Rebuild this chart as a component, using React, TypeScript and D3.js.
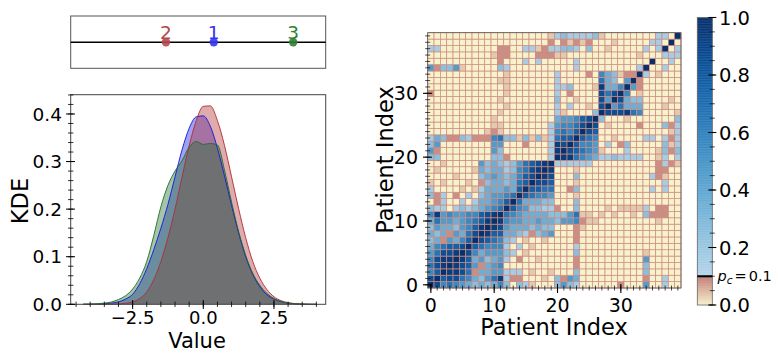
import React, { useEffect, useRef } from 'react';
import * as d3 from 'd3';

// top strip: one marker per group
const markerLabels = ['1', '2', '3'];
const markerValues = [0.37, -1.32, 3.18];
const markerColors = ['#3434ee', '#b8474b', '#2f7f33'];

// KDE curves
const kdeX = [-4.25, -4, -3.75, -3.5, -3.25, -3, -2.75, -2.5, -2.25, -2, -1.75, -1.5, -1.25, -1, -0.75, -0.5, -0.25,
  0, 0.25, 0.5, 0.75, 1, 1.25, 1.5, 1.75, 2, 2.25, 2.5, 2.75, 3, 3.25, 3.5, 3.75, 4];
const kdeBlue = [0, 0.0002, 0.0005, 0.001, 0.0025, 0.005, 0.011, 0.021, 0.043, 0.075, 0.115, 0.16, 0.21, 0.268, 0.325, 0.37, 0.394,
  0.396, 0.374, 0.328, 0.27, 0.208, 0.15, 0.1, 0.063, 0.037, 0.02, 0.011, 0.0055, 0.0025, 0.001, 0.0004, 0.0001, 0];
const kdeRed = [0, 0, 0, 0.0001, 0.0003, 0.0008, 0.002, 0.005, 0.012, 0.026, 0.052, 0.09, 0.14, 0.2, 0.268, 0.333, 0.386,
  0.416, 0.417, 0.386, 0.334, 0.268, 0.201, 0.14, 0.09, 0.055, 0.031, 0.016, 0.0077, 0.0035, 0.0015, 0.0005, 0.0001, 0];
const kdeGreen = [0.0003, 0.0006, 0.0012, 0.0025, 0.005, 0.01, 0.018, 0.032, 0.055, 0.09, 0.145, 0.205, 0.25, 0.28, 0.302, 0.33, 0.342,
  0.336, 0.338, 0.335, 0.282, 0.215, 0.153, 0.103, 0.065, 0.04, 0.023, 0.012, 0.006, 0.0025, 0.001, 0.0004, 0.0001, 0];

const kdeXTicks = [-2.5, 0, 2.5];
const kdeYTicks = [0, 0.1, 0.2, 0.3, 0.4];

// co-clustering matrix, symmetric: lower triangle, one string per patient
const levelKeys = ['.', ':', 'r', 'a', 'b', 'c', 'd', 'e', 'f', 'g', 'h', 'i', 'X'];
const levelValues = [0.0, 0.035, 0.085, 0.16, 0.26, 0.36, 0.46, 0.56, 0.66, 0.76, 0.85, 0.93, 1.0];
const lowerRows = [
  'X',
  'hX',
  'egX',
  'fhiX',
  'ehiiX',
  'dfhhiX',
  'cefgghX',
  'bcrdcegX',
  'cbcrdcfhX',
  'bdccbdegiX',
  'cfddcdefgiX',
  'eideddeeghiX',
  'baa.ababcdefX',
  '.ra..a.accdegX',
  'bra.r.a.bcddefX',
  'a....:.:acccdcgX',
  ':.:...:.rbccbcfgX',
  '....:...bcdcbceghX',
  '.:.....:cbccabefhiX',
  '..:.....dbcbabdfghiX',
  'bb........bbr......aX',
  'dr........db.......aiX',
  'bd........dd...r...aihX',
  'acbrrbarrrefbb:b:b:afggX',
  '.........:r:.......aefegX',
  '..........::.......adeefhX',
  '..........:.........cddeghX',
  '...........:........a:....bX',
  '............:.......a.a..:.hX',
  '...........:........b..:...hdX',
  'r...........:.......a.r....hfhX',
  '............:.......aab...:icceX',
  '...........::.......a......fcb.dX',
  '............:.......a....r.ecb:rrX',
  'drbbd:.....ba..........a.........aX',
  '...........r...a.a.....a...........X',
  '..........:rr....rrr::...........:...X',
  'aa.........rr..aa:raabba.b..:.....a.aX',
  '...................r.r:r:r...:.....aa.X',
  '...................:abaaaab:........aa.X',
];

const patientTicks = [0, 10, 20, 30];
const cbarTicks = [0, 0.2, 0.4, 0.6, 0.8, 1.0];
const pc = 0.1;

const App = () => {
  const ref = useRef<SVGSVGElement>(null);

  useEffect(() => {
    document.body.style.margin = '0';
    const svg = d3.select(ref.current);
    svg.selectAll('*').remove();
    const font = 'DejaVu Sans';

    // ---------- KDE panel ----------
    const x = d3.scaleLinear().domain([-4.69, 4.33]).range([70.7, 325.7]);
    const y = d3.scaleLinear().domain([0, 0.4405]).range([304.3, 94.7]);

    const series = [
      { vals: kdeBlue, color: 'rgb(20,20,220)' },
      { vals: kdeRed, color: 'rgb(175,45,50)' },
      { vals: kdeGreen, color: 'rgb(30,110,40)' },
    ];
    const area = d3.area<[number, number]>()
      .x(d => x(d[0])).y0(y(0)).y1(d => y(d[1]))
      .curve(d3.curveMonotoneX);
    const line = d3.line<[number, number]>()
      .x(d => x(d[0])).y(d => y(d[1]))
      .curve(d3.curveMonotoneX);

    series.forEach(s => {
      const pts = kdeX.map((v, i) => [v, s.vals[i]] as [number, number]);
      svg.append('path').attr('d', area(pts)).attr('fill', s.color).attr('fill-opacity', 0.4);
    });
    series.forEach(s => {
      const pts = kdeX.map((v, i) => [v, s.vals[i]] as [number, number]);
      svg.append('path').attr('d', line(pts)).attr('fill', 'none')
        .attr('stroke', s.color).attr('stroke-width', 0.9);
    });

    svg.append('rect').attr('x', 70.7).attr('y', 94.7).attr('width', 255).attr('height', 209.6)
      .attr('fill', 'none').attr('stroke', '#444').attr('stroke-width', 1);

    // y ticks
    d3.range(0, 0.441, 0.02).forEach(v => {
      svg.append('line').attr('x1', 68).attr('x2', 73.4).attr('y1', y(v)).attr('y2', y(v))
        .attr('stroke', '#000').attr('stroke-width', 0.8);
    });
    kdeYTicks.forEach(v => {
      svg.append('line').attr('x1', 66).attr('x2', 75).attr('y1', y(v)).attr('y2', y(v))
        .attr('stroke', '#000').attr('stroke-width', 1);
      svg.append('text').attr('x', 62).attr('y', y(v)).attr('dy', '0.36em')
        .attr('text-anchor', 'end').attr('font-family', font).attr('font-size', 18.5)
        .text(d3.format('.1f')(v));
    });
    // x ticks
    d3.range(-4.5, 4.01, 0.5).forEach(v => {
      svg.append('line').attr('x1', x(v)).attr('x2', x(v)).attr('y1', 301.6).attr('y2', 307)
        .attr('stroke', '#000').attr('stroke-width', 0.8);
    });
    kdeXTicks.forEach(v => {
      svg.append('line').attr('x1', x(v)).attr('x2', x(v)).attr('y1', 300).attr('y2', 309)
        .attr('stroke', '#000').attr('stroke-width', 1);
      svg.append('text').attr('x', x(v)).attr('y', 323.5).attr('text-anchor', 'middle')
        .attr('font-family', font).attr('font-size', 18)
        .text(d3.format('.1f')(v).replace('-', '\u2212'));
    });
    svg.append('text').attr('x', 197).attr('y', 347.5).attr('text-anchor', 'middle')
      .attr('font-family', font).attr('font-size', 21).text('Value');
    svg.append('text').attr('transform', 'translate(28,201) rotate(-90)').attr('text-anchor', 'middle')
      .attr('font-family', font).attr('font-size', 22.5).text('KDE');

    // ---------- top strip ----------
    svg.append('rect').attr('x', 70.7).attr('y', 16).attr('width', 255).attr('height', 52.3)
      .attr('fill', 'none').attr('stroke', '#555').attr('stroke-width', 1);
    svg.append('line').attr('x1', 70.7).attr('x2', 325.7).attr('y1', 42.3).attr('y2', 42.3)
      .attr('stroke', '#000').attr('stroke-width', 1.6);
    markerValues.forEach((v, i) => {
      svg.append('circle').attr('cx', x(v)).attr('cy', 42.3).attr('r', 4.2)
        .attr('fill', markerColors[i]).attr('fill-opacity', 0.9);
      svg.append('text').attr('x', x(v)).attr('y', 38.5).attr('text-anchor', 'middle')
        .attr('font-family', font).attr('font-size', 18.5).attr('fill', markerColors[i])
        .text(markerLabels[i]);
    });

    // ---------- heatmap ----------
    const n = lowerRows.length;
    const hx = d3.scaleLinear().domain([-0.5, n - 0.5]).range([427.7, 681]);
    const hy = d3.scaleLinear().domain([-0.5, n - 0.5]).range([288, 32.7]);
    const level = (ch: string) => levelValues[levelKeys.indexOf(ch)] ?? 0;
    const cellValue = (i: number, j: number) => level(lowerRows[Math.max(i, j)][Math.min(i, j)]);
    const lowColor = d3.interpolateRgb('#f7f2cb', '#c27c78');
    const color = (v: number) => v <= pc ? lowColor(v / pc) : d3.interpolateBlues(0.3 + 0.7 * (v - pc) / (1 - pc));

    svg.append('g').selectAll('rect')
      .data(d3.cross(d3.range(n), d3.range(n)))
      .enter()
      .append('rect')
      .attr('x', d => hx(d[1] - 0.5))
      .attr('y', d => hy(d[0] + 0.5))
      .attr('width', hx(0.5) - hx(-0.5))
      .attr('height', hy(-0.5) - hy(0.5))
      .attr('fill', d => color(cellValue(d[0], d[1])))
      .attr('stroke', '#cd8b80')
      .attr('stroke-width', 0.7);

    svg.append('rect').attr('x', 427.7).attr('y', 32.7).attr('width', 253.3).attr('height', 255.3)
      .attr('fill', 'none').attr('stroke', '#555').attr('stroke-width', 0.8);

    d3.range(n).forEach(v => {
      svg.append('line').attr('x1', hx(v)).attr('x2', hx(v)).attr('y1', 285.5).attr('y2', 290.5)
        .attr('stroke', '#000').attr('stroke-width', 0.7);
      svg.append('line').attr('x1', 425.2).attr('x2', 430.2).attr('y1', hy(v)).attr('y2', hy(v))
        .attr('stroke', '#000').attr('stroke-width', 0.7);
    });
    patientTicks.forEach(v => {
      svg.append('line').attr('x1', hx(v)).attr('x2', hx(v)).attr('y1', 284).attr('y2', 293)
        .attr('stroke', '#000').attr('stroke-width', 1.1);
      svg.append('line').attr('x1', 423).attr('x2', 432).attr('y1', hy(v)).attr('y2', hy(v))
        .attr('stroke', '#000').attr('stroke-width', 1.1);
      svg.append('text').attr('x', hx(v)).attr('y', 311.5).attr('text-anchor', 'middle')
        .attr('font-family', font).attr('font-size', 19).text(v);
      svg.append('text').attr('x', 418).attr('y', hy(v)).attr('dy', '0.36em').attr('text-anchor', 'end')
        .attr('font-family', font).attr('font-size', 19).text(v);
    });
    svg.append('text').attr('x', 554).attr('y', 335).attr('text-anchor', 'middle')
      .attr('font-family', font).attr('font-size', 22.5).text('Patient Index');
    svg.append('text').attr('transform', 'translate(393,160) rotate(-90)').attr('text-anchor', 'middle')
      .attr('font-family', font).attr('font-size', 22.5).text('Patient Index');

    // ---------- colorbar ----------
    const cy = d3.scaleLinear().domain([0, 1]).range([305, 17.5]);
    const cx0 = 697.3, cw = 15;
    d3.range(0, 1, 0.0025).forEach(v => {
      svg.append('rect').attr('x', cx0).attr('y', cy(v + 0.0025)).attr('width', cw)
        .attr('height', cy(v) - cy(v + 0.0025) + 0.4).attr('fill', color(v + 0.00125));
    });
    svg.append('rect').attr('x', cx0).attr('y', cy(1)).attr('width', cw).attr('height', cy(0) - cy(1))
      .attr('fill', 'none').attr('stroke', '#666').attr('stroke-width', 0.8);
    svg.append('line').attr('x1', cx0).attr('x2', cx0 + cw).attr('y1', cy(pc)).attr('y2', cy(pc))
      .attr('stroke', '#000').attr('stroke-width', 2);
    d3.range(0, 1.001, 0.05).forEach(v => {
      svg.append('line').attr('x1', cx0 + cw - 2.5).attr('x2', cx0 + cw + 2.5).attr('y1', cy(v)).attr('y2', cy(v))
        .attr('stroke', '#000').attr('stroke-width', 0.7);
    });
    cbarTicks.forEach(v => {
      svg.append('line').attr('x1', cx0 + cw - 4).attr('x2', cx0 + cw + 4).attr('y1', cy(v)).attr('y2', cy(v))
        .attr('stroke', '#000').attr('stroke-width', 1.1);
      svg.append('text').attr('x', 719).attr('y', cy(v)).attr('dy', '0.36em')
        .attr('font-family', font).attr('font-size', 19.5).text(d3.format('.1f')(v));
    });
    const pcText = svg.append('text').attr('x', 717.5).attr('y', cy(pc) + 5)
      .attr('font-family', font).attr('font-size', 14.5);
    pcText.append('tspan').attr('font-style', 'italic').text('p');
    pcText.append('tspan').attr('font-style', 'italic').attr('font-size', 10.5).attr('dy', 3).text('c');
    pcText.append('tspan').attr('dy', -3).attr('dx', 2).text('=');
    pcText.append('tspan').attr('dx', 2).text('0.1');

    return () => {
      d3.select(ref.current).selectAll('*').remove();
    };
  }, []);

  return <svg ref={ref} width={778} height={354} style={{ display: 'block' }} />;
};

export default App;
